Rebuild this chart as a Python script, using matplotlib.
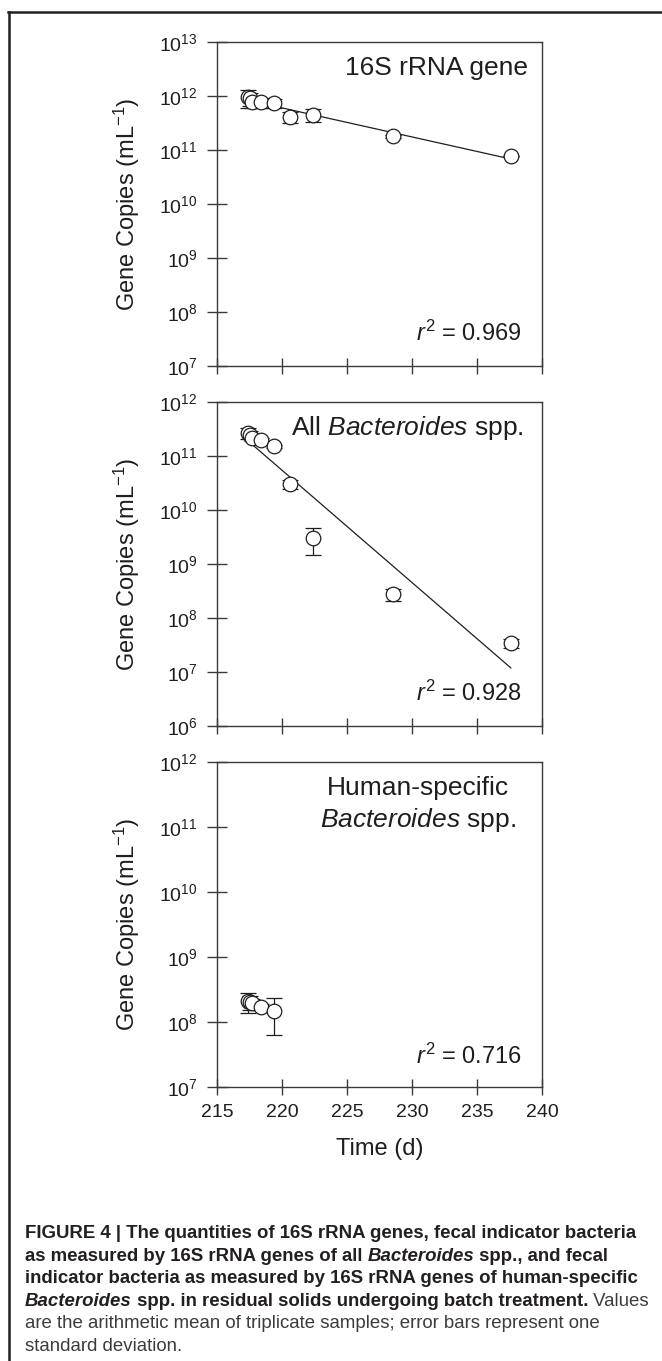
import numpy as np
import matplotlib
matplotlib.use("Agg")
import matplotlib.pyplot as plt
from matplotlib import font_manager
from matplotlib.lines import Line2D

# ------------------------------
# Data
# ------------------------------
tempo = [217.4, 217.5, 217.7, 218.4, 219.4, 220.6, 222.4, 228.5, 237.6]

rrna_16s = [9.5e11, 9.0e11, 7.8e11, 7.6e11, 7.3e11, 4.1e11, 4.45e11, 1.8e11, 7.7e10]
rrna_16s_dp = [3.6e11, 2.5e11, 1.9e11, 1.7e11, 1.4e11, 0.9e11, 1.2e11, 0.1e11, 0.05e10]

bact_all = [2.7e11, 2.5e11, 2.2e11, 2.0e11, 1.5e11, 3.0e10, 3.0e9, 2.75e8, 3.4e7]
bact_all_dp = [0.6e11, 0.4e11, 0.3e11, 0.2e11, 0.1e11, 0.6e10, 1.55e9, 0.65e8, 0.65e7]

tempo_hf = [217.4, 217.5, 217.7, 218.4, 219.4]
bact_hf = [2.1e8, 2.05e8, 1.94e8, 1.72e8, 1.5e8]
bact_hf_dp = [0.7e8, 0.5e8, 0.3e8, 0.2e8, 0.87e8]

r2_textos = ["0.969", "0.928", "0.716"]
expoentes = [list(range(7, 14)), list(range(6, 13)), list(range(7, 13))]
x_ticks = [215, 220, 225, 230, 235, 240]

# ------------------------------
# Fonts
# ------------------------------
nomes = {f.name for f in font_manager.fontManager.ttflist}
plt.rcParams["font.family"] = ["Liberation Sans", "DejaVu Sans"]
plt.rcParams["mathtext.fontset"] = "custom"
plt.rcParams["mathtext.rm"] = "Liberation Sans"
plt.rcParams["mathtext.it"] = "Liberation Sans:italic"
plt.rcParams["mathtext.bf"] = "Liberation Sans:bold"
fonte_legenda = "Liberation Sans Narrow" if "Liberation Sans Narrow" in nomes else "Liberation Sans"

W, H = 662, 1361
fig = plt.figure(figsize=(W / 100, H / 100), dpi=100)

cor_txt = "#1e1e1e"
cor_eixo = "#3a3a3a"

# panel boxes in pixels: (top, bottom)
paineis = [(42, 366), (402, 726), (762, 1087)]
esq, dir_ = 217, 542

eixos = []
for topo, base in paineis:
    ax = fig.add_axes([esq / W, 1 - base / H, (dir_ - esq) / W, (base - topo) / H])
    eixos.append(ax)

series = [
    (tempo, rrna_16s, rrna_16s_dp, True),
    (tempo, bact_all, bact_all_dp, True),
    (tempo_hf, bact_hf, bact_hf_dp, False),
]

for i, (ax, (t, y, dp, com_reta)) in enumerate(zip(eixos, series)):
    ax.set_yscale("log")
    ax.set_xlim(215, 240)
    ax.set_ylim(10.0 ** expoentes[i][0], 10.0 ** expoentes[i][-1])

    ax.errorbar(t, y, yerr=dp, fmt="none", ecolor=cor_txt, elinewidth=0.9,
                capsize=6, capthick=0.9, zorder=2)
    if com_reta:
        coef = np.polyfit(t, np.log10(y), 1)
        tt = np.array([min(t), max(t)])
        ax.plot(tt, 10 ** np.polyval(coef, tt), color=cor_txt, linewidth=0.9, zorder=1)
    ax.plot(t, y, "o", markersize=10.5, markerfacecolor="white",
            markeredgecolor=cor_txt, markeredgewidth=0.9, zorder=3)

    ax.set_yticks([10.0 ** e for e in expoentes[i]])
    ax.set_yticklabels([f"$10^{{{e}}}$" for e in expoentes[i]])
    ax.yaxis.set_minor_locator(matplotlib.ticker.NullLocator())
    ax.set_xticks(x_ticks)
    if i == 2:
        ax.set_xticklabels([str(v) for v in x_ticks])
        ax.set_xlabel("Time (d)", fontsize=17, color=cor_txt, labelpad=12)
    else:
        ax.set_xticklabels([])

    ax.tick_params(axis="y", direction="inout", length=15, width=1.0, pad=6.5,
                   labelsize=14, colors=cor_eixo, labelcolor=cor_txt)
    ax.tick_params(axis="x", direction="inout", length=11, width=1.0, pad=7,
                   labelsize=14, colors=cor_eixo, labelcolor=cor_txt)
    for s in ax.spines.values():
        s.set_color(cor_eixo)
        s.set_linewidth(1.0)

    ax.set_ylabel("Gene Copies (mL$^{-1}$)", fontsize=17, color=cor_txt)
    ax.yaxis.set_label_coords(-0.231, 0.5)

    ax.text(0.938, 0.10 if i < 2 else 0.093, r"$\mathit{r}^{\mathrm{2}}$ = " + r2_textos[i],
            transform=ax.transAxes, ha="right", va="center", fontsize=17, color=cor_txt)

eixos[0].text(0.957, 0.92, "16S rRNA gene", transform=eixos[0].transAxes,
              ha="right", va="center", fontsize=19, color=cor_txt)
eixos[1].text(0.942, 0.92, r"All $\mathit{Bacteroides}$ spp.", transform=eixos[1].transAxes,
              ha="right", va="center", fontsize=19, color=cor_txt)
eixos[2].text(0.618, 0.92, "Human-specific", transform=eixos[2].transAxes,
              ha="center", va="center", fontsize=19, color=cor_txt)
eixos[2].text(0.618, 0.8215, r"$\mathit{Bacteroides}$ spp.", transform=eixos[2].transAxes,
              ha="center", va="center", fontsize=19, color=cor_txt)

# ------------------------------
# Frame lines of the figure panel
# ------------------------------
fig.add_artist(Line2D([8 / W, 1], [1 - 12 / H, 1 - 12 / H], transform=fig.transFigure,
                      color="#231f20", linewidth=1.8))
fig.add_artist(Line2D([9 / W, 9 / W], [0, 1 - 11.5 / H], transform=fig.transFigure,
                      color="#231f20", linewidth=1.8))

# ------------------------------
# Caption, drawn run by run
# ------------------------------
B, BI, R = ("bold", "normal"), ("bold", "italic"), ("normal", "normal")
legenda = [
    [("FIGURE 4 | The quantities of 16S rRNA genes, fecal indicator bacteria", B)],
    [("as measured by 16S rRNA genes of all ", B), ("Bacteroides", BI), (" spp., and fecal", B)],
    [("indicator bacteria as measured by 16S rRNA genes of human-specific", B)],
    [("Bacteroides", BI), (" spp. in residual solids undergoing batch treatment.", B), (" Values", R)],
    [("are the arithmetic mean of triplicate samples; error bars represent one", R)],
    [("standard deviation.", R)],
]
linhas_y = [1238, 1261, 1283, 1306, 1328, 1351]

renderer = fig.canvas.get_renderer()


def escreve(x, y, runs, tam, medir=False):
    feitos = []
    for txt, (peso, estilo) in runs:
        cor = "#231f20" if peso == "bold" else "#3c3c3c"
        t = fig.text(x / W, 1 - y / H, txt, fontsize=tam, fontweight=peso, fontstyle=estilo,
                     family=[fonte_legenda, "DejaVu Sans"], color=cor, ha="left", va="baseline")
        x += t.get_window_extent(renderer).width
        feitos.append(t)
    if medir:
        for t in feitos:
            t.remove()
    return x


largura = escreve(0, 0, legenda[0], 10, medir=True)
tam_leg = 10 * 613 / largura

for runs, y in zip(legenda, linhas_y):
    escreve(25, y, runs, tam_leg)

fig.savefig("out.png", dpi=100)
